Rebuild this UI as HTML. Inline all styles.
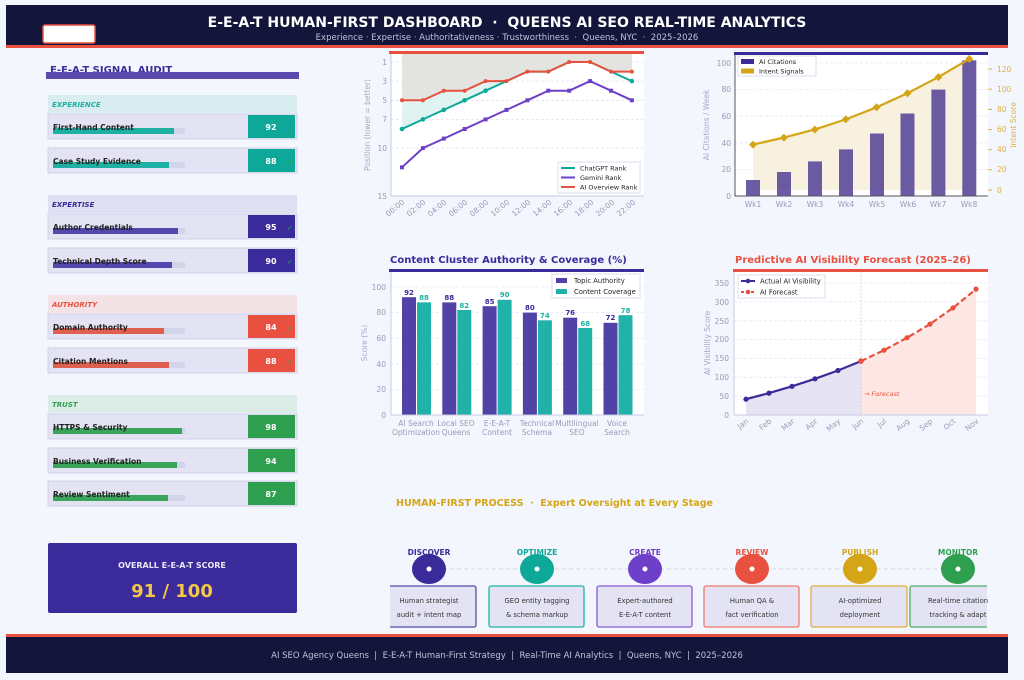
<!DOCTYPE html>
<html><head><meta charset="utf-8"><style>
html,body{margin:0;padding:0;background:#f3f6fd;}
svg{display:block;font-family:"DejaVu Sans","Liberation Sans",sans-serif;}
.tk{font-size:7.5px;fill:#9a9ab8;}
.lab{font-size:7.5px;fill:#222;font-weight:bold;}
</style></head><body>
<svg width="1024" height="680" viewBox="0 0 1024 680" xmlns="http://www.w3.org/2000/svg">
<rect width="1024" height="680" fill="#f3f6fd"/>
<!-- header -->
<rect x="6" y="5" width="1002" height="40" fill="#13153a"/>
<rect x="6" y="45" width="1002" height="3" fill="#e85140"/>
<rect x="43" y="25" width="52" height="18" rx="2" fill="#fff" stroke="#e85140" stroke-width="1.5"/>
<text x="507" y="27" text-anchor="middle" font-size="14" font-weight="bold" fill="#fff">E-E-A-T HUMAN-FIRST DASHBOARD&#160;&#160;·&#160;&#160;QUEENS AI SEO REAL-TIME ANALYTICS</text>
<text x="507" y="40" text-anchor="middle" font-size="8.5" fill="#c0c2da">Experience · Expertise · Authoritativeness · Trustworthiness&#160;&#160;·&#160;&#160;Queens, NYC&#160;&#160;·&#160;&#160;2025–2026</text>
<!-- footer -->
<rect x="6" y="634" width="1002" height="3" fill="#e85140"/>
<rect x="6" y="637" width="1002" height="36" fill="#13153a"/>
<text x="507" y="658" text-anchor="middle" font-size="8.5" fill="#c0c2da">AI SEO Agency Queens&#160;&#160;|&#160;&#160;E-E-A-T Human-First Strategy&#160;&#160;|&#160;&#160;Real-Time AI Analytics&#160;&#160;|&#160;&#160;Queens, NYC&#160;&#160;|&#160;&#160;2025–2026</text>

<!-- left panel -->
<text x="50" y="73" font-size="10" font-weight="bold" fill="#3b2d9b">E-E-A-T SIGNAL AUDIT</text>
<rect x="46" y="72" width="253" height="7" fill="#5a4aad"/>

<g font-size="7" font-style="italic" font-weight="bold">
<rect x="48" y="95" width="249" height="18" fill="#d9ecf0"/><text x="52" y="107" fill="#1eb1a3">EXPERIENCE</text>
<rect x="48" y="195" width="249" height="18" fill="#e0e0f3"/><text x="52" y="207" fill="#3b2a9a">EXPERTISE</text>
<rect x="48" y="295" width="249" height="18" fill="#f3e2e6"/><text x="52" y="307" fill="#e85140">AUTHORITY</text>
<rect x="48" y="395" width="249" height="18" fill="#dcece6"/><text x="52" y="407" fill="#2e9f4f">TRUST</text>
</g>

<g>
<rect x="48" y="114" width="249" height="25" fill="#e3e3f4" stroke="#d0d0ea"/><rect x="53" y="128" width="132" height="6" fill="#d0d5ea"/><rect x="53" y="128" width="121" height="6" fill="#1fb0a4"/><text x="53" y="130" class="lab">First-Hand Content</text><rect x="248" y="115" width="47" height="23" fill="#0ea899"/><text x="271" y="130" text-anchor="middle" font-size="8" font-weight="bold" fill="#fff">92</text><text x="287" y="130" font-size="7" fill="#2e9f4f">✓</text>
<rect x="48" y="148" width="249" height="25" fill="#e3e3f4" stroke="#d0d0ea"/><rect x="53" y="162" width="132" height="6" fill="#d0d5ea"/><rect x="53" y="162" width="116" height="6" fill="#1fb0a4"/><text x="53" y="164" class="lab">Case Study Evidence</text><rect x="248" y="149" width="47" height="23" fill="#0ea899"/><text x="271" y="164" text-anchor="middle" font-size="8" font-weight="bold" fill="#fff">88</text><text x="287" y="164" font-size="7" fill="#2e9f4f">✓</text>

<rect x="48" y="214" width="249" height="25" fill="#e3e3f4" stroke="#d0d0ea"/><rect x="53" y="228" width="132" height="6" fill="#d0d5ea"/><rect x="53" y="228" width="125" height="6" fill="#5548ad"/><text x="53" y="230" class="lab">Author Credentials</text><rect x="248" y="215" width="47" height="23" fill="#3b2a9a"/><text x="271" y="230" text-anchor="middle" font-size="8" font-weight="bold" fill="#fff">95</text><text x="287" y="230" font-size="7" fill="#2e9f4f">✓</text>
<rect x="48" y="248" width="249" height="25" fill="#e3e3f4" stroke="#d0d0ea"/><rect x="53" y="262" width="132" height="6" fill="#d0d5ea"/><rect x="53" y="262" width="119" height="6" fill="#5548ad"/><text x="53" y="264" class="lab">Technical Depth Score</text><rect x="248" y="249" width="47" height="23" fill="#3b2a9a"/><text x="271" y="264" text-anchor="middle" font-size="8" font-weight="bold" fill="#fff">90</text><text x="287" y="264" font-size="7" fill="#2e9f4f">✓</text>

<rect x="48" y="314" width="249" height="25" fill="#e3e3f4" stroke="#d0d0ea"/><rect x="53" y="328" width="132" height="6" fill="#d0d5ea"/><rect x="53" y="328" width="111" height="6" fill="#e06050"/><text x="53" y="330" class="lab">Domain Authority</text><rect x="248" y="315" width="47" height="23" fill="#e85140"/><text x="271" y="330" text-anchor="middle" font-size="8" font-weight="bold" fill="#fff">84</text><text x="287" y="330" font-size="7" fill="#2e9f4f">✓</text>
<rect x="48" y="348" width="249" height="25" fill="#e3e3f4" stroke="#d0d0ea"/><rect x="53" y="362" width="132" height="6" fill="#d0d5ea"/><rect x="53" y="362" width="116" height="6" fill="#e06050"/><text x="53" y="364" class="lab">Citation Mentions</text><rect x="248" y="349" width="47" height="23" fill="#e85140"/><text x="271" y="364" text-anchor="middle" font-size="8" font-weight="bold" fill="#fff">88</text><text x="287" y="364" font-size="7" fill="#2e9f4f">✓</text>

<rect x="48" y="414" width="249" height="25" fill="#e3e3f4" stroke="#d0d0ea"/><rect x="53" y="428" width="132" height="6" fill="#d0d5ea"/><rect x="53" y="428" width="129" height="6" fill="#3aa35c"/><text x="53" y="430" class="lab">HTTPS &amp; Security</text><rect x="248" y="415" width="47" height="23" fill="#2e9f4f"/><text x="271" y="430" text-anchor="middle" font-size="8" font-weight="bold" fill="#fff">98</text>
<rect x="48" y="448" width="249" height="25" fill="#e3e3f4" stroke="#d0d0ea"/><rect x="53" y="462" width="132" height="6" fill="#d0d5ea"/><rect x="53" y="462" width="124" height="6" fill="#3aa35c"/><text x="53" y="464" class="lab">Business Verification</text><rect x="248" y="449" width="47" height="23" fill="#2e9f4f"/><text x="271" y="464" text-anchor="middle" font-size="8" font-weight="bold" fill="#fff">94</text>
<rect x="48" y="481" width="249" height="25" fill="#e3e3f4" stroke="#d0d0ea"/><rect x="53" y="495" width="132" height="6" fill="#d0d5ea"/><rect x="53" y="495" width="115" height="6" fill="#3aa35c"/><text x="53" y="497" class="lab">Review Sentiment</text><rect x="248" y="482" width="47" height="23" fill="#2e9f4f"/><text x="271" y="497" text-anchor="middle" font-size="8" font-weight="bold" fill="#fff">87</text>
</g>

<rect x="48" y="543" width="249" height="70" rx="2" fill="#3b2a9a"/>
<text x="172" y="568" text-anchor="middle" font-size="8" font-weight="bold" fill="#e8e8f8">OVERALL E-E-A-T SCORE</text>
<text x="172" y="597" text-anchor="middle" font-size="18" font-weight="bold" fill="#f3c846">91 / 100</text>

<!-- Chart 1 -->
<rect x="391" y="53" width="253" height="143" fill="#fff"/>
<g stroke="#e2e2f4" stroke-dasharray="3,2" stroke-width="0.8">
<line x1="391" x2="644" y1="62" y2="62"/><line x1="391" x2="644" y1="81.1" y2="81.1"/><line x1="391" x2="644" y1="100.3" y2="100.3"/><line x1="391" x2="644" y1="119.4" y2="119.4"/><line x1="391" x2="644" y1="148.1" y2="148.1"/>
</g>
<polygon fill="#e3e3df" points="402,53 402,100.3 422.9,100.3 443.8,90.7 464.7,90.7 485.6,81.1 506.5,81.1 527.4,71.6 548.3,71.6 569.2,62 590.1,62 611,71.6 631.9,71.6 631.9,53"/>
<polygon fill="#dff3f0" points="402,100.3 422.9,100.3 443.8,90.7 464.7,90.7 485.6,81.1 506.5,81.1 506.5,81.1 485.6,90.7 464.7,100.3 443.8,109.9 422.9,119.4 402,129"/>
<polyline fill="none" stroke="#0ea899" stroke-width="2" points="402,129 422.9,119.4 443.8,109.9 464.7,100.3 485.6,90.7 506.5,81.1 527.4,71.6 548.3,71.6 569.2,62 590.1,62 611,71.6 631.9,81.1"/>
<polyline fill="none" stroke="#6e3fc8" stroke-width="2" points="402,167.3 422.9,148.1 443.8,138.6 464.7,129 485.6,119.4 506.5,109.9 527.4,100.3 548.3,90.7 569.2,90.7 590.1,81.1 611,90.7 631.9,100.3"/>
<polyline fill="none" stroke="#e85140" stroke-width="2" points="402,100.3 422.9,100.3 443.8,90.7 464.7,90.7 485.6,81.1 506.5,81.1 527.4,71.6 548.3,71.6 569.2,62 590.1,62 611,71.6 631.9,71.6"/>
<g fill="#0ea899"><circle cx="402" cy="129" r="2.3"/><circle cx="422.9" cy="119.4" r="2.3"/><circle cx="443.8" cy="109.9" r="2.3"/><circle cx="464.7" cy="100.3" r="2.3"/><circle cx="485.6" cy="90.7" r="2.3"/><circle cx="631.9" cy="81.1" r="2.3"/></g>
<g fill="#6e3fc8"><rect x="400" y="165.3" width="4" height="4"/><rect x="420.9" y="146.1" width="4" height="4"/><rect x="441.8" y="136.6" width="4" height="4"/><rect x="462.7" y="127" width="4" height="4"/><rect x="483.6" y="117.4" width="4" height="4"/><rect x="504.5" y="107.9" width="4" height="4"/><rect x="525.4" y="98.3" width="4" height="4"/><rect x="546.3" y="88.7" width="4" height="4"/><rect x="567.2" y="88.7" width="4" height="4"/><rect x="588.1" y="79.1" width="4" height="4"/><rect x="609" y="88.7" width="4" height="4"/><rect x="629.9" y="98.3" width="4" height="4"/></g>
<g fill="#e85140"><circle cx="402" cy="100.3" r="2"/><circle cx="422.9" cy="100.3" r="2"/><circle cx="443.8" cy="90.7" r="2"/><circle cx="464.7" cy="90.7" r="2"/><circle cx="485.6" cy="81.1" r="2"/><circle cx="506.5" cy="81.1" r="2"/><circle cx="527.4" cy="71.6" r="2"/><circle cx="548.3" cy="71.6" r="2"/><circle cx="569.2" cy="62" r="2"/><circle cx="590.1" cy="62" r="2"/><circle cx="611" cy="71.6" r="2"/><circle cx="631.9" cy="71.6" r="2"/></g>
<line x1="391" y1="196" x2="644" y2="196" stroke="#c8c8e4"/><line x1="391" y1="53" x2="391" y2="196" stroke="#c8c8e4"/>
<rect x="389" y="51" width="255" height="3" fill="#e85140"/>
<g class="tk" text-anchor="end"><text x="387" y="65">1</text><text x="387" y="84">3</text><text x="387" y="103">5</text><text x="387" y="122">7</text><text x="387" y="151">10</text><text x="387" y="199">15</text></g>
<text transform="translate(370,125) rotate(-90)" text-anchor="middle" font-size="7.5" fill="#a8a8c8">Position (lower = better)</text>
<g class="tk" text-anchor="end">
<text transform="translate(405,203) rotate(-40)">00:00</text><text transform="translate(426,203) rotate(-40)">02:00</text><text transform="translate(447,203) rotate(-40)">04:00</text><text transform="translate(468,203) rotate(-40)">06:00</text><text transform="translate(489,203) rotate(-40)">08:00</text><text transform="translate(510,203) rotate(-40)">10:00</text><text transform="translate(531,203) rotate(-40)">12:00</text><text transform="translate(552,203) rotate(-40)">14:00</text><text transform="translate(573,203) rotate(-40)">16:00</text><text transform="translate(594,203) rotate(-40)">18:00</text><text transform="translate(615,203) rotate(-40)">20:00</text><text transform="translate(636,203) rotate(-40)">22:00</text>
</g>
<rect x="558" y="162" width="82" height="31" fill="#fff" stroke="#dcdcec"/>
<g font-size="6.5" fill="#222"><line x1="561" x2="575" y1="168" y2="168" stroke="#0ea899" stroke-width="2"/><text x="580" y="170.5">ChatGPT Rank</text>
<line x1="561" x2="575" y1="177.5" y2="177.5" stroke="#6e3fc8" stroke-width="2"/><text x="580" y="180">Gemini Rank</text>
<line x1="561" x2="575" y1="187" y2="187" stroke="#e85140" stroke-width="2"/><text x="580" y="189.5">AI Overview Rank</text></g>

<!-- Chart 2 -->
<rect x="735" y="53" width="253" height="143" fill="#fff"/>
<g stroke="#e8e8f4" stroke-dasharray="3,2" stroke-width="0.8">
<line x1="735" x2="988" y1="63" y2="63"/><line x1="735" x2="988" y1="89.6" y2="89.6"/><line x1="735" x2="988" y1="116.2" y2="116.2"/><line x1="735" x2="988" y1="142.8" y2="142.8"/><line x1="735" x2="988" y1="169.4" y2="169.4"/></g>
<polygon fill="#f7f0dc" opacity="0.9" points="753,190 753,144.6 783.9,137.6 814.8,129.5 845.7,119.4 876.6,107.3 907.5,93.2 938.4,77.1 969.3,58.9 969.3,190"/>
<g fill="#5b4a9c" opacity="0.9"><rect x="746" y="180" width="14" height="16"/><rect x="777" y="172" width="14" height="24"/><rect x="808" y="161.4" width="14" height="34.6"/><rect x="839" y="149.4" width="14" height="46.6"/><rect x="870" y="133.5" width="14" height="62.5"/><rect x="900.5" y="113.5" width="14" height="82.5"/><rect x="931.4" y="89.6" width="14" height="106.4"/><rect x="962.3" y="60.3" width="14" height="135.7"/></g>
<polyline fill="none" stroke="#d4a516" stroke-width="2.2" points="753,144.6 783.9,137.6 814.8,129.5 845.7,119.4 876.6,107.3 907.5,93.2 938.4,77.1 969.3,58.9"/>
<g fill="#d4a516"><path d="M753,140.6l4,4l-4,4l-4,-4z"/><path d="M783.9,133.6l4,4l-4,4l-4,-4z"/><path d="M814.8,125.5l4,4l-4,4l-4,-4z"/><path d="M845.7,115.4l4,4l-4,4l-4,-4z"/><path d="M876.6,103.3l4,4l-4,4l-4,-4z"/><path d="M907.5,89.2l4,4l-4,4l-4,-4z"/><path d="M938.4,73.1l4,4l-4,4l-4,-4z"/><path d="M969.3,54.9l4,4l-4,4l-4,-4z"/></g>
<line x1="735" y1="53" x2="735" y2="196" stroke="#555"/><line x1="735" y1="196" x2="988" y2="196" stroke="#555"/>
<rect x="734" y="52" width="254" height="3" fill="#3b2a9a"/>
<g class="tk" text-anchor="end"><text x="731" y="66">100</text><text x="731" y="92">80</text><text x="731" y="119">60</text><text x="731" y="146">40</text><text x="731" y="172">20</text><text x="731" y="199">0</text></g>
<g font-size="7.5" fill="#e0b040"><text x="997" y="72">120</text><text x="997" y="92">100</text><text x="997" y="112">80</text><text x="997" y="132">60</text><text x="997" y="152">40</text><text x="997" y="172">20</text><text x="997" y="193">0</text></g>
<g stroke="#e0b040"><line x1="988" x2="992" y1="69" y2="69"/><line x1="988" x2="992" y1="89.2" y2="89.2"/><line x1="988" x2="992" y1="109.4" y2="109.4"/><line x1="988" x2="992" y1="129.5" y2="129.5"/><line x1="988" x2="992" y1="149.7" y2="149.7"/><line x1="988" x2="992" y1="169.8" y2="169.8"/><line x1="988" x2="992" y1="190" y2="190"/></g>
<text transform="translate(709,125) rotate(-90)" text-anchor="middle" font-size="7.5" fill="#a8a8c8">AI Citations / Week</text>
<text transform="translate(1016,125) rotate(-90)" text-anchor="middle" font-size="7.5" fill="#e0b040">Intent Score</text>
<g class="tk" text-anchor="middle"><text x="753" y="207">Wk1</text><text x="784" y="207">Wk2</text><text x="815" y="207">Wk3</text><text x="846" y="207">Wk4</text><text x="877" y="207">Wk5</text><text x="908" y="207">Wk6</text><text x="938" y="207">Wk7</text><text x="969" y="207">Wk8</text></g>
<rect x="738" y="56" width="78" height="20" fill="#fff" stroke="#dcdcec"/>
<g font-size="6.5" fill="#222"><rect x="741" y="59" width="13" height="5" fill="#3b2a9a"/><text x="759" y="64">AI Citations</text><rect x="741" y="68.5" width="13" height="5" fill="#d4a516"/><text x="759" y="73.5">Intent Signals</text></g>

<!-- Chart 3 -->
<text x="390" y="263" font-size="10" font-weight="bold" fill="#3b2a9a">Content Cluster Authority &amp; Coverage (%)</text>
<rect x="389" y="269" width="255" height="3" fill="#3b2a9a"/>
<rect x="391" y="272" width="253" height="143" fill="#fff"/>
<g stroke="#e6e6f6" stroke-dasharray="3,2" stroke-width="0.8"><line x1="391" x2="644" y1="287" y2="287"/><line x1="391" x2="644" y1="312.6" y2="312.6"/><line x1="391" x2="644" y1="338.2" y2="338.2"/><line x1="391" x2="644" y1="363.8" y2="363.8"/><line x1="391" x2="644" y1="389.4" y2="389.4"/></g>
<g fill="#5142a6"><rect x="402" y="297.2" width="14" height="117.8"/><rect x="442.3" y="302.4" width="14" height="112.6"/><rect x="482.6" y="306.2" width="14" height="108.8"/><rect x="522.9" y="312.6" width="14" height="102.4"/><rect x="563.2" y="317.7" width="14" height="97.3"/><rect x="603.5" y="322.8" width="14" height="92.2"/></g>
<g fill="#20b2a8"><rect x="417" y="302.4" width="14" height="112.6"/><rect x="457.3" y="310" width="14" height="105"/><rect x="497.6" y="299.8" width="14" height="115.2"/><rect x="537.9" y="320.3" width="14" height="94.7"/><rect x="578.2" y="328" width="14" height="87"/><rect x="618.5" y="315.2" width="14" height="99.8"/></g>
<g font-size="7" font-weight="bold" text-anchor="middle" fill="#3b2a9a"><text x="409" y="295">92</text><text x="449.3" y="300">88</text><text x="489.6" y="304">85</text><text x="529.9" y="310">80</text><text x="570.2" y="315">76</text><text x="610.5" y="320">72</text></g>
<g font-size="7" font-weight="bold" text-anchor="middle" fill="#1eb1a3"><text x="424" y="300">88</text><text x="464.3" y="308">82</text><text x="504.6" y="297">90</text><text x="544.9" y="318">74</text><text x="585.2" y="326">68</text><text x="625.5" y="313">78</text></g>
<line x1="391" y1="272" x2="391" y2="415" stroke="#c8c8e4"/><line x1="391" y1="415" x2="644" y2="415" stroke="#c8c8e4"/>
<g class="tk" text-anchor="end"><text x="386" y="290">100</text><text x="386" y="315">80</text><text x="386" y="341">60</text><text x="386" y="367">40</text><text x="386" y="392">20</text><text x="386" y="418">0</text></g>
<text transform="translate(367,343) rotate(-90)" text-anchor="middle" font-size="7.5" fill="#a8a8c8">Score (%)</text>
<g class="tk" text-anchor="middle" font-size="8"><text x="416" y="426">AI Search</text><text x="416" y="435">Optimization</text><text x="456" y="426">Local SEO</text><text x="456" y="435">Queens</text><text x="497" y="426">E-E-A-T</text><text x="497" y="435">Content</text><text x="537" y="426">Technical</text><text x="537" y="435">Schema</text><text x="577" y="426">Multilingual</text><text x="577" y="435">SEO</text><text x="617" y="426">Voice</text><text x="617" y="435">Search</text></g>
<rect x="552" y="274" width="88" height="24" fill="#fff" stroke="#dcdcec"/>
<g font-size="6.8" fill="#222"><rect x="556" y="278" width="11" height="5" fill="#5142a6"/><text x="574" y="283">Topic Authority</text><rect x="556" y="289" width="11" height="5" fill="#20b2a8"/><text x="574" y="294">Content Coverage</text></g>

<!-- Chart 4 -->
<text x="735" y="263" font-size="10" font-weight="bold" fill="#e85140">Predictive AI Visibility Forecast (2025–26)</text>
<rect x="733" y="269" width="255" height="3" fill="#e85140"/>
<rect x="734" y="272" width="254" height="143" fill="#fff"/>
<g stroke="#e6e6f6" stroke-dasharray="3,2" stroke-width="0.8"><line x1="734" x2="988" y1="283" y2="283"/><line x1="734" x2="988" y1="301.9" y2="301.9"/><line x1="734" x2="988" y1="320.8" y2="320.8"/><line x1="734" x2="988" y1="339.6" y2="339.6"/><line x1="734" x2="988" y1="358.5" y2="358.5"/><line x1="734" x2="988" y1="377.3" y2="377.3"/><line x1="734" x2="988" y1="396.2" y2="396.2"/></g>
<polygon fill="#e6e3f2" points="746,415 746,399.2 769,393.1 792,386.3 815,378.8 838,370.5 861,361.1 861,415"/>
<polygon fill="#fde7e3" points="861,415 861,361.1 884,350.2 907,337.7 930,324.1 953,307.9 976,289.1 976,415"/>
<line x1="861" y1="272" x2="861" y2="415" stroke="#c8c8e4" stroke-dasharray="1.5,2"/>
<polyline fill="none" stroke="#3b2a9a" stroke-width="2.2" points="746,399.2 769,393.1 792,386.3 815,378.8 838,370.5 861,361.1"/>
<polyline fill="none" stroke="#e85140" stroke-width="2.2" stroke-dasharray="6,3" points="861,361.1 884,350.2 907,337.7 930,324.1 953,307.9 976,289.1"/>
<g fill="#3b2a9a"><circle cx="746" cy="399.2" r="2.6"/><circle cx="769" cy="393.1" r="2.6"/><circle cx="792" cy="386.3" r="2.6"/><circle cx="815" cy="378.8" r="2.6"/><circle cx="838" cy="370.5" r="2.6"/></g>
<g fill="#e85140"><circle cx="861" cy="361.1" r="2.8"/><circle cx="884" cy="350.2" r="2.6"/><circle cx="907" cy="337.7" r="2.6"/><circle cx="930" cy="324.1" r="2.6"/><circle cx="953" cy="307.9" r="2.6"/><circle cx="976" cy="289.1" r="2.6"/></g>
<text x="864" y="396" font-size="6.5" font-style="italic" fill="#e85140">→ Forecast</text>
<line x1="734" y1="272" x2="734" y2="415" stroke="#c8c8e4"/><line x1="734" y1="415" x2="988" y2="415" stroke="#c8c8e4"/>
<g class="tk" text-anchor="end"><text x="729" y="286">350</text><text x="729" y="305">300</text><text x="729" y="324">250</text><text x="729" y="342">200</text><text x="729" y="361">150</text><text x="729" y="380">100</text><text x="729" y="399">50</text><text x="729" y="418">0</text></g>
<text transform="translate(710,343) rotate(-90)" text-anchor="middle" font-size="7.5" fill="#a8a8c8">AI Visibility Score</text>
<g class="tk" text-anchor="end"><text transform="translate(749,422) rotate(-40)">Jan</text><text transform="translate(772,422) rotate(-40)">Feb</text><text transform="translate(795,422) rotate(-40)">Mar</text><text transform="translate(818,422) rotate(-40)">Apr</text><text transform="translate(841,422) rotate(-40)">May</text><text transform="translate(864,422) rotate(-40)">Jun</text><text transform="translate(887,422) rotate(-40)">Jul</text><text transform="translate(910,422) rotate(-40)">Aug</text><text transform="translate(933,422) rotate(-40)">Sep</text><text transform="translate(956,422) rotate(-40)">Oct</text><text transform="translate(979,422) rotate(-40)">Nov</text></g>
<rect x="738" y="275" width="87" height="23" fill="#fff" stroke="#dcdcec"/>
<g font-size="6.8" fill="#222"><line x1="741" x2="755" y1="281" y2="281" stroke="#3b2a9a" stroke-width="2"/><circle cx="748" cy="281" r="2.3" fill="#3b2a9a"/><text x="760" y="283.5">Actual AI Visibility</text>
<line x1="741" x2="755" y1="292" y2="292" stroke="#e85140" stroke-width="2" stroke-dasharray="3,2"/><circle cx="748" cy="292" r="2.3" fill="#e85140"/><text x="760" y="294.5">AI Forecast</text></g>

<!-- Process -->
<text x="396" y="506" font-size="9.5" font-weight="bold" fill="#d4a516">HUMAN-FIRST PROCESS&#160;&#160;·&#160;&#160;Expert Oversight at Every Stage</text>
<line x1="429" y1="569" x2="958" y2="569" stroke="#dcdcf0" stroke-width="1.2" stroke-dasharray="4,3"/>
<g font-size="7.5" font-weight="bold" text-anchor="middle">
<text x="429" y="555" fill="#3b2a9a">DISCOVER</text><text x="537" y="555" fill="#0ea899">OPTIMIZE</text><text x="645" y="555" fill="#6e3fc8">CREATE</text><text x="752" y="555" fill="#e85140">REVIEW</text><text x="860" y="555" fill="#d4a516">PUBLISH</text><text x="958" y="555" fill="#2e9f4f">MONITOR</text></g>
<g><ellipse cx="429" cy="569" rx="17" ry="15" fill="#3b2a9a"/><ellipse cx="537" cy="569" rx="17" ry="15" fill="#0ea899"/><ellipse cx="645" cy="569" rx="17" ry="15" fill="#6e3fc8"/><ellipse cx="752" cy="569" rx="17" ry="15" fill="#e85140"/><ellipse cx="860" cy="569" rx="17" ry="15" fill="#d4a516"/><ellipse cx="958" cy="569" rx="17" ry="15" fill="#2e9f4f"/></g>
<g fill="#fff"><circle cx="429" cy="569" r="2.5"/><circle cx="537" cy="569" r="2.5"/><circle cx="645" cy="569" r="2.5"/><circle cx="752" cy="569" r="2.5"/><circle cx="860" cy="569" r="2.5"/><circle cx="958" cy="569" r="2.5"/></g>
<g fill="#e3e3f4" stroke-width="1.3">
<rect x="380" y="586" width="96" height="41" rx="2" stroke="#5a4aad"/><rect x="489" y="586" width="95" height="41" rx="2" stroke="#1eb1a3"/><rect x="597" y="586" width="95" height="41" rx="2" stroke="#8a5ad8"/><rect x="704" y="586" width="95" height="41" rx="2" stroke="#f07a6a"/><rect x="811" y="586" width="96" height="41" rx="2" stroke="#e0b040"/><rect x="910" y="586" width="90" height="41" rx="2" stroke="#4ab06a"/></g>
<rect x="372" y="584" width="18" height="45" fill="#f3f6fd"/><rect x="987" y="584" width="20" height="45" fill="#f3f6fd"/>
<g font-size="6.8" fill="#333" text-anchor="middle">
<text x="429" y="603">Human strategist</text><text x="429" y="617">audit + intent map</text>
<text x="537" y="603">GEO entity tagging</text><text x="537" y="617">&amp; schema markup</text>
<text x="645" y="603">Expert-authored</text><text x="645" y="617">E-E-A-T content</text>
<text x="752" y="603">Human QA &amp;</text><text x="752" y="617">fact verification</text>
<text x="860" y="603">AI-optimized</text><text x="860" y="617">deployment</text>
<text x="958" y="603">Real-time citation</text><text x="958" y="617">tracking &amp; adapt</text></g>
</svg>
</body></html>
